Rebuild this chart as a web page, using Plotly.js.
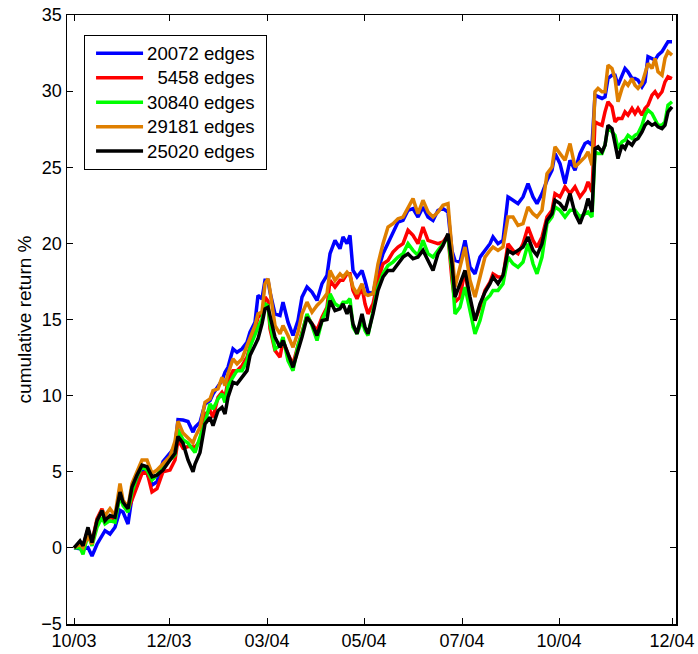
<!DOCTYPE html>
<html>
<head>
<meta charset="utf-8">
<script src="https://cdn.plot.ly/plotly-3.0.1.min.js"></script>
<style>
html,body{margin:0;padding:0;background:#fff;}
#chart{width:698px;height:654px;}
/* MATLAB-like legend: longer sample lines, larger text, wider box */
#chart .legend .scrollbox{clip-path:none !important;}
#chart .legend .legendtext{transform:translateX(22px); font-size:18.6px !important;}
#chart .legend rect.bg{width:182px !important;}
</style>
</head>
<body>
<div id="chart"></div>
<script>
// trading-day index of each sample
var days = [0,3,4.5,7,9,11.5,14,15.5,18,20.5,23,24.5,27,29,31.5,34,36.5,39,41.5,44.5,48,50.5,52,54.5,57,59.5,60.5,63,65.5,68,69.5,72,74,75.5,77,79.5,81.5,84,86.5,88,90.5,92,94,95.5,97,98,100.5,103,104.5,107,109.5,112,114,116.5,119,121.5,124,126.5,128,130.5,133,134.5,136.5,138,139.5,141.5,144,145.5,147,149.5,152,154.5,157,159.5,162,164.5,167,169.5,172,174.5,177,179.5,182,184.5,187,189,190.5,193,195.5,198,200.5,203,205.5,208,209.5,212,214.5,217,219.5,222,224.5,227,229.5,231.5,234,236.5,239,240.5,243,245.5,248,250.5,253,255.5,257,259,260.5,262,264,265.5,267,269,270.5,272,274,275.5,277,279,280.5,282,284,285.5,287,289,290.5,292,294,295.5,297,299];

var tickDays = [0,47.5,96.5,145,194,242.5,299];
var tickLabels = ['10/03','12/03','03/04','05/04','07/04','10/04','12/04'];

var names = ['20072 edges','\u00a0\u00a05458 edges','30840 edges','29181 edges','25020 edges'];

var ret20072 = [0,-0.09,-0.09,0.02,-0.53,0.24,0.8,1.13,0.91,1.35,
2.46,2.35,1.57,3.34,4.12,5.11,4.89,4.12,4.34,5.66,
6.22,6.66,8.43,8.4,8.3,7.6,7.92,8.25,9.45,9.67,
10.11,10.55,10.99,11.54,11.86,13.07,12.85,13.07,13.51,14.17,
14.82,16.58,16.36,17.57,17.57,16.8,15.37,15.26,16.14,14.82,
13.95,14.93,16.47,17.13,16.8,16.25,17.35,17.9,19.32,20.2,
19.65,20.42,19.98,20.53,18.22,17.79,18.22,17.57,16.8,16.69,
18.22,19.32,19.98,20.64,21.4,21.51,22.17,22.28,21.73,22.39,
21.73,21.51,22.17,22.28,22.06,19.5,18.88,18.77,20.2,18.44,
18.0,19.1,19.54,19.98,20.42,19.98,20.2,23.05,22.83,22.61,
23.05,23.93,23.05,22.61,23.27,24.14,24.8,25.9,25.24,23.93,
25.46,24.8,25.9,26.56,26.67,26.45,29.74,29.63,29.52,29.63,
30.83,31.05,31.05,30.39,31.05,31.49,31.27,30.83,30.83,30.72,
30.28,30.61,32.26,32.15,32.04,32.37,32.59,32.92,33.25,33.25];

var ret5458 = [0,0.3,0.1,1.24,0.4,1.9,2.57,2.0,2.01,1.9,
3.56,2.9,2.46,3.12,4.0,4.89,5.0,3.67,3.89,5.0,
5.11,5.77,7.1,6.55,6.66,6.66,6.6,7.04,8.79,9.01,
8.57,9.89,10.22,9.89,10.99,11.64,11.64,11.97,12.52,13.18,
14.39,15.15,15.37,16.47,16.2,14.39,12.96,12.52,13.62,12.74,
12.08,13.29,14.17,15.26,14.71,14.28,15.15,15.8,17.57,17.13,
17.57,17.57,18.0,18.0,16.91,16.36,17.13,16.03,15.37,16.03,
17.57,18.66,18.88,19.43,19.76,19.98,20.86,20.53,19.98,21.07,
20.2,20.09,19.98,20.09,20.53,17.57,16.14,16.47,18.22,16.03,
14.93,15.81,16.91,17.46,18.0,17.79,17.79,19.98,19.54,19.32,
19.98,21.07,20.2,19.76,20.42,21.73,22.17,23.27,23.05,23.71,
23.27,23.71,23.05,23.49,24.04,23.38,27.98,27.87,27.76,28.64,
29.3,28.97,27.98,28.2,28.2,28.64,28.42,28.86,28.53,28.86,
28.42,28.86,29.08,29.74,29.96,29.63,29.96,30.61,30.94,30.83];

var ret30840 = [0,0.02,-0.42,0.91,0.13,1.35,2.01,1.57,1.79,1.68,
3.45,2.79,2.35,3.67,4.67,5.33,5.11,4.45,4.78,5.44,
5.77,6.1,7.77,7.1,6.88,6.5,6.27,7.26,8.25,9.45,
9.12,9.78,10.11,9.56,10.66,11.21,11.64,11.64,12.3,13.18,
14.06,14.5,15.04,16.03,15.9,14.71,13.07,13.29,13.84,12.3,
11.64,13.29,14.06,15.37,14.6,13.62,14.93,15.7,16.69,16.03,
15.81,16.14,16.14,16.36,14.5,14.06,14.93,14.28,13.95,15.59,
17.13,18.0,18.55,18.77,19.1,19.32,19.98,19.54,19.21,20.2,
19.32,19.1,19.54,19.98,20.42,18.2,15.37,15.81,17.13,15.59,
14.06,14.93,16.25,16.58,16.91,16.91,17.35,19.1,18.66,18.44,
18.77,19.98,18.66,18.0,19.1,21.29,21.73,22.39,22.17,21.73,
22.17,22.17,21.73,21.95,22.06,21.73,26.01,25.9,25.9,26.45,
27.65,27.32,27.1,26.23,26.67,26.78,27.1,26.89,27.1,27.21,
27.76,28.42,28.75,28.53,28.2,27.76,27.76,27.98,29.08,29.3];

var ret29181 = [0,0.24,0.02,0.8,0.24,1.79,2.46,2.12,2.57,2.12,
4.23,3.12,2.68,4.23,5.0,5.77,5.77,4.89,5.11,5.55,
6.0,7.0,8.32,7.54,7.2,6.9,7.26,7.92,9.56,9.78,
10.33,10.44,11.2,10.66,11.43,12.41,12.08,12.41,13.29,13.84,
14.6,15.37,15.48,17.35,17.68,16.91,14.6,14.06,14.6,13.95,
13.18,14.17,15.37,16.14,15.48,15.92,16.25,16.7,18.22,17.57,
18.0,17.79,18.11,17.89,17.13,16.69,17.35,16.69,16.58,16.69,
18.66,19.98,21.07,21.29,21.62,21.73,22.39,22.94,21.95,22.83,
22.06,21.73,22.06,22.5,22.61,19.76,17.13,18.44,19.76,17.57,
16.47,17.79,19.1,19.54,19.76,19.54,19.76,21.73,21.73,21.18,
21.29,22.39,21.95,21.73,22.17,24.58,25.02,26.34,25.9,25.46,
26.56,25.02,25.35,25.68,26.01,25.13,29.96,30.18,29.96,29.96,
31.71,31.49,30.83,29.3,30.18,30.61,30.39,30.83,30.39,30.18,
30.5,31.27,31.82,31.49,32.15,31.27,31.05,32.15,32.59,32.37];

var ret25020 = [0,0.46,0.13,1.35,0.35,1.79,2.46,1.79,2.12,2.01,
3.67,3.0,2.57,4.0,4.78,5.44,5.33,4.67,4.78,5.11,
5.77,6.22,7.32,6.88,5.77,5.0,5.5,6.27,8.14,8.57,
8.03,9.01,9.23,8.79,9.89,10.88,10.77,11.21,11.64,12.63,
13.4,13.73,14.71,15.7,15.8,15.26,13.84,13.18,13.62,12.74,
11.86,12.96,13.84,15.15,14.71,13.95,14.93,15.0,16.25,15.59,
15.7,16.03,15.37,15.92,14.71,14.06,15.37,14.5,14.06,15.37,
16.91,17.79,18.22,18.22,18.66,19.1,19.32,18.99,19.1,19.54,
18.88,18.22,19.32,19.87,20.64,18.66,16.47,17.35,18.22,16.47,
14.93,16.03,16.8,17.35,17.79,17.35,17.9,19.54,19.32,19.54,
19.76,20.42,19.54,19.21,19.98,21.51,21.95,22.83,22.61,22.17,
23.27,21.95,21.29,22.17,22.94,22.06,26.23,26.34,26.01,26.45,
27.76,27.54,26.67,25.57,26.45,26.23,26.67,26.45,26.78,26.89,
27.32,27.76,27.98,27.76,27.87,27.65,27.54,27.76,28.64,28.97];

var seriesValues = [ret20072, ret5458, ret30840, ret29181, ret25020];
var colors = ['#0000ff','#ff0000','#00ff00','#df7f00','#000000'];

var traces = seriesValues.map(function(vals, i){
  return {x: days, y: vals, type: 'scatter', mode: 'lines', name: names[i],
          line: {color: colors[i], width: 3.5}};
});

var font = 'Liberation Sans, Arial, Helvetica, sans-serif';
var layout = {
  width: 698, height: 654,
  margin: {l: 67, r: 22, t: 15, b: 30, pad: 0},
  paper_bgcolor: '#fff', plot_bgcolor: '#fff',
  font: {family: font, size: 18, color: '#000'},
  showlegend: true,
  legend: {x: 0.028, y: 0.967, xanchor: 'left', yanchor: 'top',
           bgcolor: '#fff', bordercolor: '#000', borderwidth: 1,
           font: {family: font, size: 16.5, color: '#000'},
           tracegroupgap: 0},
  xaxis: {range: [-3.5, 301], tickmode: 'array', tickvals: tickDays, ticktext: tickLabels,
          showgrid: false, zeroline: false, showline: true, linecolor: '#000', linewidth: 1.5,
          mirror: 'ticks', ticks: 'inside', ticklen: 6, tickwidth: 1, tickcolor: '#000',
          tickfont: {family: font, size: 18, color: '#000'}},
  yaxis: {range: [-5, 35], tickmode: 'linear', tick0: -5, dtick: 5,
          showgrid: false, zeroline: false, showline: true, linecolor: '#000', linewidth: 1.5,
          mirror: 'ticks', ticks: 'inside', ticklen: 6, tickwidth: 1, tickcolor: '#000',
          tickfont: {family: font, size: 18, color: '#000'},
          title: {text: 'cumulative return %', font: {family: font, size: 19, color: '#000'}, standoff: 4}}
};

var gd = document.getElementById('chart');
Plotly.newPlot(gd, traces, layout, {staticPlot: true, displayModeBar: false}).then(function(){
  gd.querySelectorAll('.legend .legendlines path').forEach(function(p){
    p.setAttribute('d', 'M11,0h47');
  });
});
</script>
</body>
</html>
